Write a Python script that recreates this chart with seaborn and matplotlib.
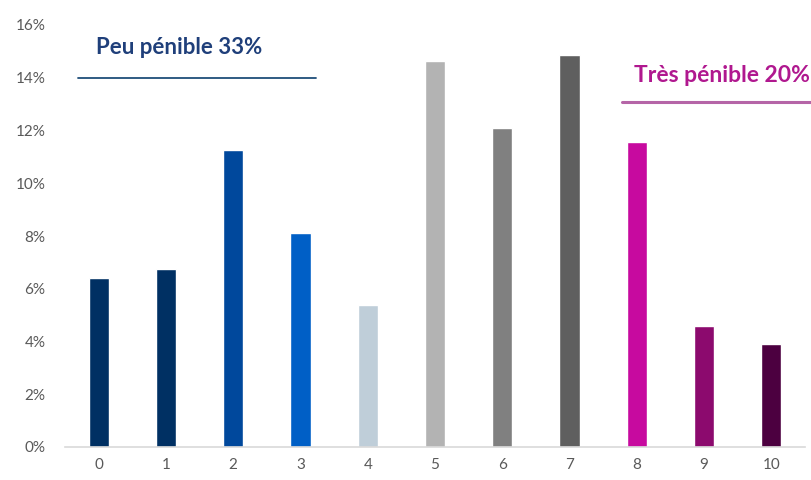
import matplotlib
matplotlib.use("Agg")
import matplotlib.pyplot as plt
import seaborn as sns
import pandas as pd

categories = ["0", "1", "2", "3", "4", "5", "6", "7", "8", "9", "10"]
values = [6.4, 6.75, 11.25, 8.1, 5.4, 14.65, 12.1, 14.85, 11.55, 4.6, 3.9]
bar_colors = ["#003063", "#003063", "#00489C", "#005FC6", "#BFCED9", "#B3B3B3",
              "#808080", "#5F5F5F", "#C70A9F", "#8C0A6E", "#4C0040"]
yticks = [0, 2, 4, 6, 8, 10, 12, 14, 16]
ytick_labels = [f"{t}%" for t in yticks]
label_low = "Peu pénible 33%"
label_high = "Très pénible 20%"

sns.set_theme(style="white")
plt.rcParams["font.family"] = ["Lato", "DejaVu Sans"]

df = pd.DataFrame({"score": categories, "pct": values})

fig = plt.figure(figsize=(8.12, 4.8), dpi=100)
ax = fig.add_axes([65 / 812, 1 - 447 / 480, 740 / 812, (447 - 25) / 480])

sns.barplot(data=df, x="score", y="pct", hue="score", palette=bar_colors,
            order=categories, hue_order=categories, legend=False,
            width=0.3, saturation=1, ax=ax)

ax.set_xlim(-0.5, 10.5)
ax.set_ylim(0, 16)
ax.set_yticks(yticks)
ax.set_yticklabels(ytick_labels)
ax.set_xlabel("")
ax.set_ylabel("")
for s in ["top", "right", "left"]:
    ax.spines[s].set_visible(False)
ax.spines["bottom"].set_color("#D9D9D9")
ax.spines["bottom"].set_linewidth(1.2)
ax.tick_params(axis="both", length=0, labelsize=11, labelcolor="#595959")
ax.tick_params(axis="y", pad=14)
ax.tick_params(axis="x", pad=8)

ax.text(1.2, 15.15, label_low, color="#1F3F7A", fontsize=16, fontweight="bold",
        ha="center", va="center")
ax.plot([-0.3, 3.23], [14, 14], color="#1F4E79", lw=1.3, clip_on=False)
ax.text(9.26, 14.1, label_high, color="#B0188F", fontsize=16.5, fontweight="bold",
        ha="center", va="center", clip_on=False)
ax.plot([7.78, 10.7], [13.09, 13.09], color="#B565A7", lw=2.2, clip_on=False)

fig.savefig("out.png", dpi=100)
